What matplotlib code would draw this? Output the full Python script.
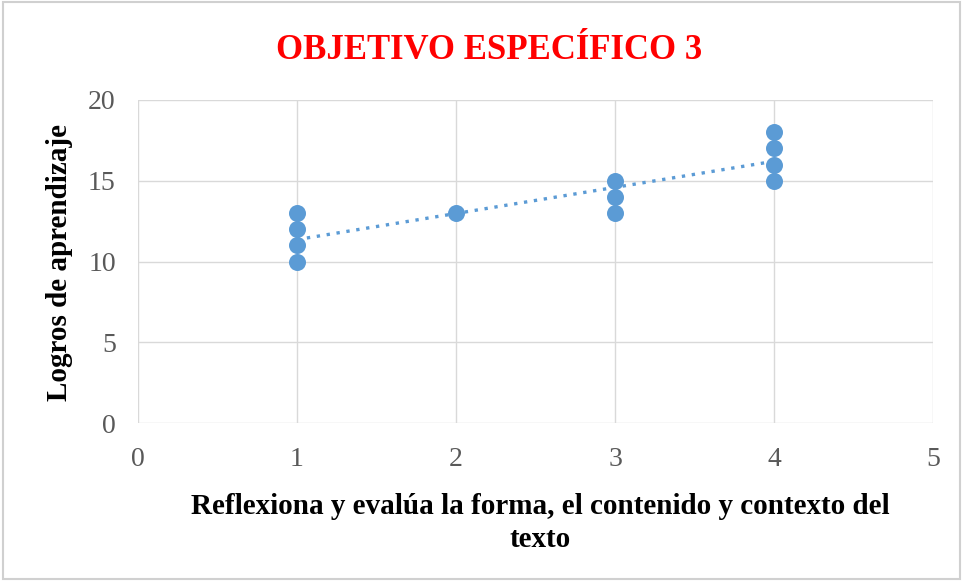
import matplotlib
matplotlib.use("Agg")
import matplotlib.pyplot as plt
import numpy as np

# data
x_vals = [1, 1, 1, 1, 2, 3, 3, 3, 4, 4, 4, 4]
y_vals = [10, 11, 12, 13, 13, 13, 14, 15, 15, 16, 17, 18]
x_ticks = [0, 1, 2, 3, 4, 5]
y_ticks = [0, 5, 10, 15, 20]

blue = '#5B9BD5'
grid_c = '#D9D9D9'
serif = ['Liberation Serif', 'DejaVu Serif']

fig = plt.figure(figsize=(9.63, 5.81), dpi=100)
fig.patches.append(plt.Rectangle((0.003, 0.003), 0.994, 0.994, transform=fig.transFigure,
                                 fill=False, edgecolor='#D0D0D0', linewidth=1.5))
ax = fig.add_axes([0.1433, 0.2719, 0.8256, 0.556])

ax.scatter(x_vals, y_vals, s=150, color=blue, zorder=3, linewidths=0)

# linear trendline
slope, intercept = np.polyfit(x_vals, y_vals, 1)
xt = np.array([min(x_vals), max(x_vals)])
ax.plot(xt, slope * xt + intercept, linestyle=(0, (1, 2.0)), color=blue,
        linewidth=2.4, zorder=2)

ax.set_xlim(0, 5)
ax.set_ylim(0, 20)
ax.set_xticks(x_ticks)
ax.set_yticks(y_ticks)
ax.grid(True, color=grid_c, linewidth=1)
ax.set_axisbelow(True)
for s in ax.spines.values():
    s.set_visible(False)
ax.tick_params(length=0, labelsize=20, labelcolor='#595959')
ax.tick_params(axis='x', pad=17)
ax.tick_params(axis='y', pad=16)
for lbl in ax.get_xticklabels() + ax.get_yticklabels():
    lbl.set_family(serif)

fig.text(0.062, 0.549, 'Logros de aprendizaje', rotation=90, ha='center', va='center',
         fontsize=21, fontweight='bold', family=serif)
fig.text(0.561, 0.100, 'Reflexiona y evalúa la forma, el contenido y contexto del\ntexto',
         ha='center', va='center', fontsize=21, fontweight='bold', family=serif,
         linespacing=1.3)

fig.text(0.508, 0.913, 'OBJETIVO ESPECÍFICO 3', ha='center', va='center',
         fontsize=25, fontweight='bold', color='red', family=serif)

plt.savefig('out.png', dpi=100)
